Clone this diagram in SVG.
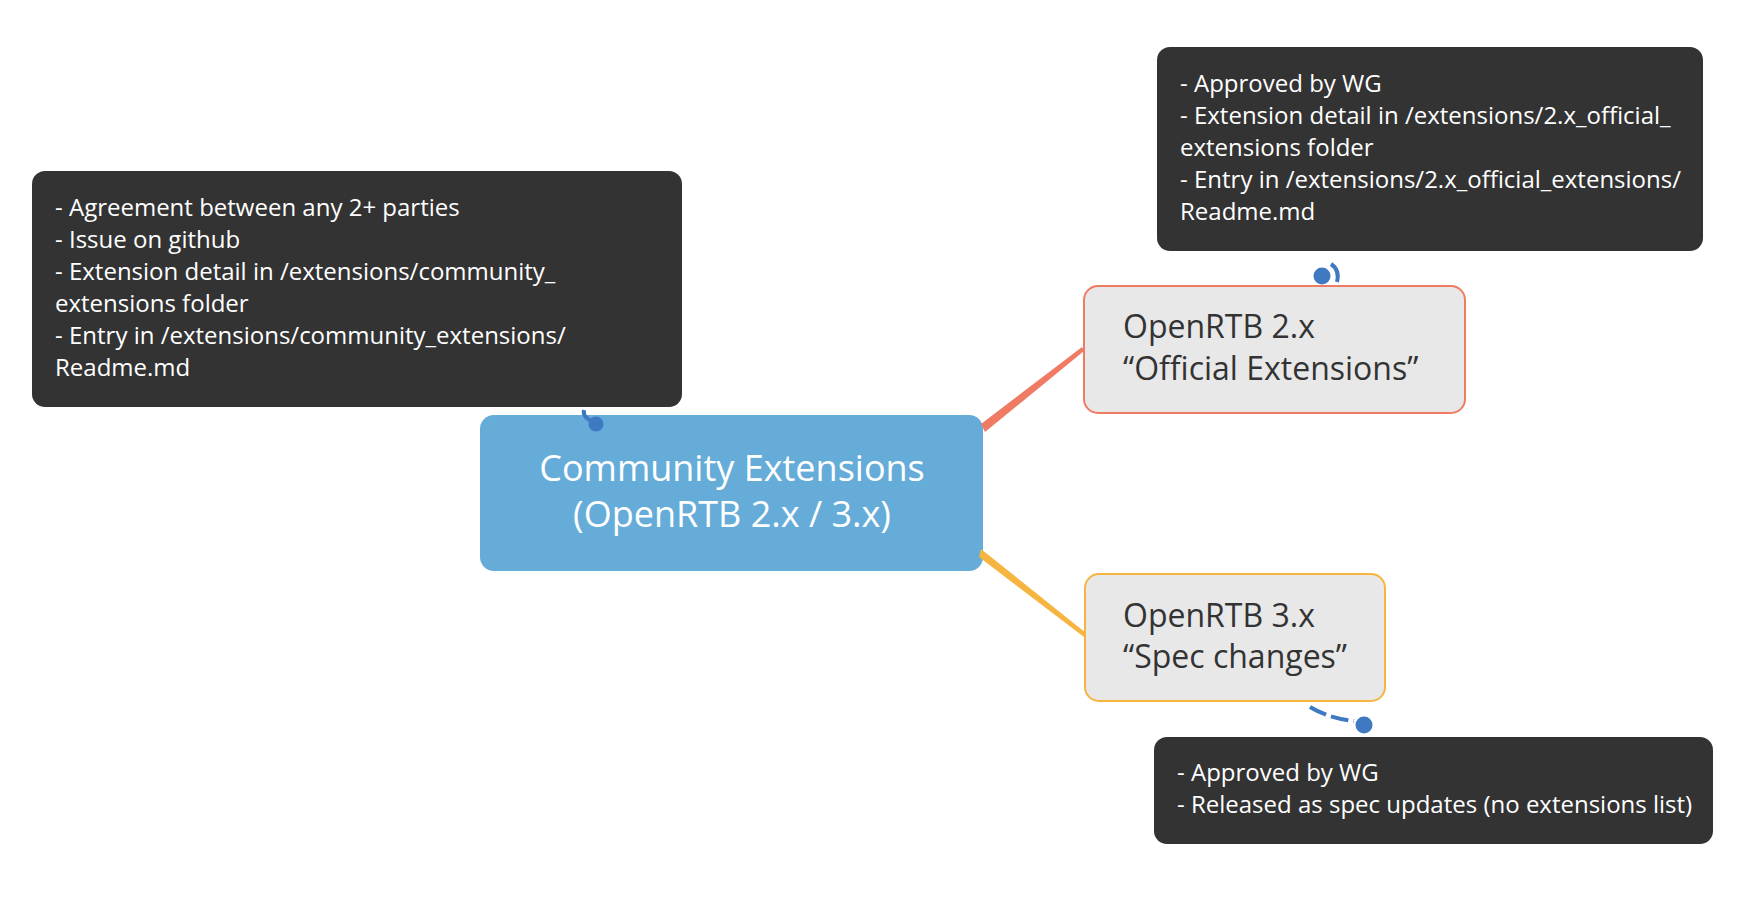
<svg xmlns="http://www.w3.org/2000/svg" width="1764" height="908" viewBox="0 0 1764 908">
<style>
.note rect{fill:#333333}
.note text{font-family:"Open Sans","Noto Sans",sans-serif;font-size:24px;fill:#ffffff}
.sub rect{fill:#e8e8e8;stroke-width:2}
.sub text{font-family:"Open Sans","Noto Sans",sans-serif;font-size:32px;fill:#333333}
.central text{font-family:"Open Sans","Noto Sans",sans-serif;font-size:36px;fill:#ffffff;text-anchor:middle}
.rel{fill:none;stroke:#3f79c1;stroke-width:4;stroke-linecap:butt}
.dot{fill:#3f79c1}
</style>
<rect width="1764" height="908" fill="#ffffff"/>
<g id="central" class="central">
<rect x="480" y="415" width="503" height="156" rx="14" fill="#66acd9"/>
<text x="732" y="481">Community Extensions</text>
<text x="732" y="527">(OpenRTB 2.x / 3.x)</text>
</g>
<g id="openrtb2" class="sub">
<rect x="1084" y="286" width="381" height="127" rx="14" stroke="#f07b65"/>
<text x="1123" y="338">OpenRTB 2.x</text>
<text x="1123" y="380">“Official Extensions”</text>
</g>
<g id="openrtb3" class="sub">
<rect x="1085" y="574" width="300" height="127" rx="14" stroke="#f5b540"/>
<text x="1123" y="627">OpenRTB 3.x</text>
<text x="1123" y="668">“Spec changes”</text>
</g>
<g id="note-community" class="note">
<rect x="32" y="171" width="650" height="236" rx="13"/>
<text x="55" y="216">- Agreement between any 2+ parties</text>
<text x="55" y="248">- Issue on github</text>
<text x="55" y="280">- Extension detail in /extensions/community_</text>
<text x="55" y="312">extensions folder</text>
<text x="55" y="344">- Entry in /extensions/community_extensions/</text>
<text x="55" y="376">Readme.md</text>
</g>
<g id="note-official" class="note">
<rect x="1157" y="47" width="546" height="204" rx="13"/>
<text x="1180" y="92">- Approved by WG</text>
<text x="1180" y="124">- Extension detail in /extensions/2.x_official_</text>
<text x="1180" y="156">extensions folder</text>
<text x="1180" y="188">- Entry in /extensions/2.x_official_extensions/</text>
<text x="1180" y="220">Readme.md</text>
</g>
<g id="note-spec" class="note">
<rect x="1154" y="737" width="559" height="107" rx="13"/>
<text x="1177" y="781">- Approved by WG</text>
<text x="1177" y="813">- Released as spec updates (no extensions list)</text>
</g>
<g id="connectors">
<polygon points="981,424 985,432 1084,351 1082,347" fill="#f07b65"/>
<polygon points="981,549 979,557 1084,637 1086,633" fill="#f5b540"/>
<path class="rel" d="M596,423 Q582,418 584,410" stroke-linecap="round"/>
<circle class="dot" cx="596" cy="424" r="7.5"/>
<path class="rel" d="M1331,264 Q1340,270 1337,282"/>
<circle class="dot" cx="1322" cy="276" r="8.5"/>
<path class="rel" d="M1310,707 Q1328,718 1354,721" stroke-dasharray="18,5"/>
<circle class="dot" cx="1364" cy="725" r="8.5"/>
</g>
</svg>
